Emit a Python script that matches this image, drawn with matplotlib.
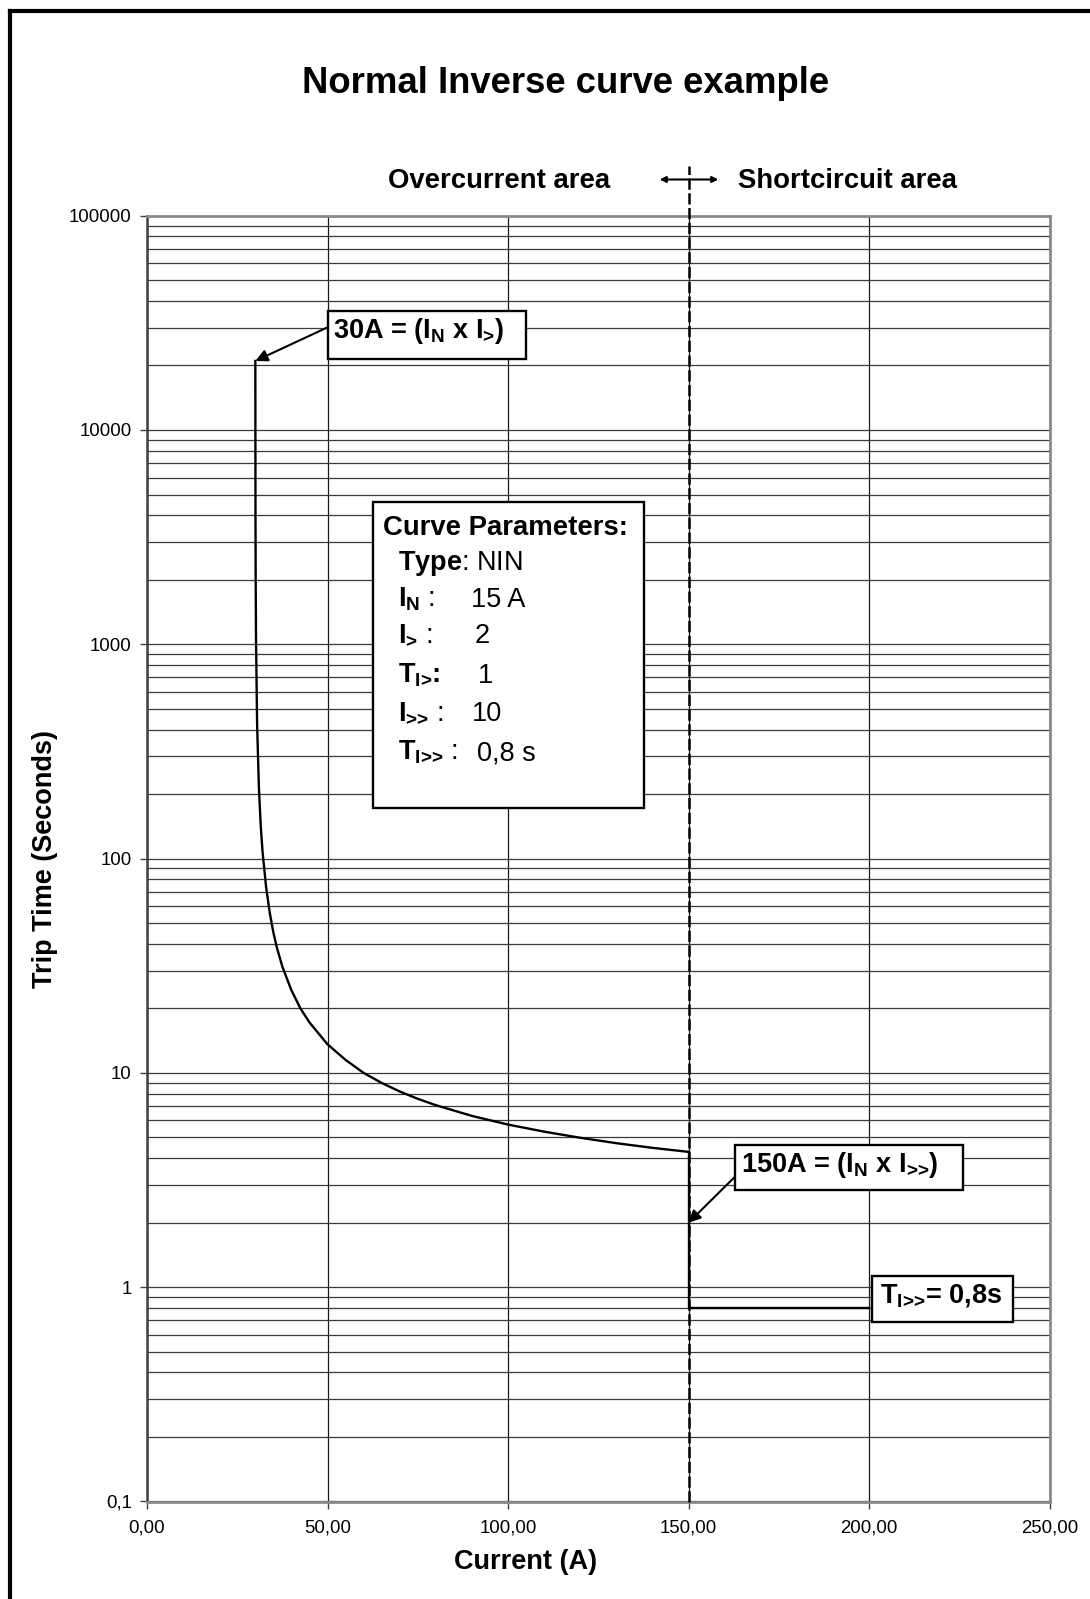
import matplotlib.pyplot as plt
from matplotlib.patches import Rectangle
from matplotlib.lines import Line2D
from matplotlib.ticker import FixedLocator, LogLocator, NullFormatter, NullLocator

plt.rcParams['font.family'] = ['Liberation Sans', 'DejaVu Sans']
plt.rcParams['mathtext.fontset'] = 'custom'
plt.rcParams['mathtext.rm'] = 'Liberation Sans:bold'
plt.rcParams['mathtext.bf'] = 'Liberation Sans:bold'
plt.rcParams['mathtext.it'] = 'Liberation Sans:bold'
plt.rcParams['mathtext.default'] = 'rm'

# Normal inverse trip curve (I_N = 15 A, I> = 2, T = 1)
current = [30.01, 30.05, 30.1, 30.2, 30.5, 31, 31.5, 32, 33, 34, 35, 36, 37.5,
           40, 42.5, 45, 50, 55, 60, 65, 70, 75, 80, 90, 100, 110, 120, 130,
           140, 150]
trip_time = [21000, 4200, 2100, 1050, 423, 213, 143, 108, 73.4, 55.9, 45.3,
             38.3, 31.3, 24.3, 20.0, 17.2, 13.6, 11.5, 10.0, 8.98, 8.19, 7.57,
             7.07, 6.30, 5.74, 5.32, 4.98, 4.70, 4.47, 4.28]

# instantaneous stage I>> : 150 A, 0.8 s
inst_current = [150, 150, 200]
inst_time = [4.28, 0.8, 0.8]

x_ticks = [0, 50, 100, 150, 200, 250]
x_labels = ["0,00", "50,00", "100,00", "150,00", "200,00", "250,00"]
y_ticks = [0.1, 1, 10, 100, 1000, 10000, 100000]
y_labels = ["0,1", "1", "10", "100", "1000", "10000", "100000"]

param_labels = [r"$\text{I}_\text{N}$ :", r"$\text{I}_\text{>}$ :",
                r"$\text{T}_\text{I>}\text{:}$", r"$\text{I}_\text{>>}$ :",
                r"$\text{T}_\text{I>>}$ :"]
param_values = ["15 A", "2", "1", "10", "0,8 s"]
curve_type = "NIN"

W, H = 1090, 1599


def fx(x):
    return x / W


def fy(y):
    return 1 - y / H


fig = plt.figure(figsize=(W / 100, H / 100), dpi=100)
ax = fig.add_axes([fx(147), fy(1501.5), (1049.5 - 147) / W, (1501.5 - 215.7) / H])

ax.set_yscale("log")
ax.set_xlim(0, 250)
ax.set_ylim(0.1, 100000)

ax.xaxis.set_major_locator(FixedLocator(x_ticks))
ax.set_xticklabels(x_labels)
ax.yaxis.set_major_locator(FixedLocator(y_ticks))
ax.set_yticklabels(y_labels)
ax.yaxis.set_minor_locator(LogLocator(base=10, subs=range(2, 10), numticks=20))
ax.yaxis.set_minor_formatter(NullFormatter())
ax.xaxis.set_minor_locator(NullLocator())
ax.tick_params(axis="both", which="major", direction="out", length=5, width=1,
               labelsize=13.4, color="#404040")
ax.tick_params(axis="x", pad=8)
ax.tick_params(axis="y", pad=6)
ax.tick_params(axis="y", which="minor", length=0)

ax.grid(axis="y", which="both", color="#3a3a3a", lw=0.9)
ax.grid(axis="x", which="major", color="#1a1a1a", lw=0.9)
ax.set_axisbelow(True)
for side in ["top", "right", "bottom"]:
    ax.spines[side].set_color("#8a8a8a")
    ax.spines[side].set_linewidth(2)
ax.spines["left"].set_color("#404040")
ax.spines["left"].set_linewidth(1.8)

ax.plot(current, trip_time, color="black", lw=1.7, zorder=4)
ax.plot(inst_current, inst_time, color="black", lw=1.7, zorder=4)

# boundary between overcurrent and short-circuit stage
ax.axvline(150, ymin=0, ymax=1 + (215.7 - 166) / (1501.5 - 215.7), color="black",
           lw=1.8, ls=(0, (4.5, 1.4)), clip_on=False, zorder=5)

# outer frame
fig.add_artist(Line2D([fx(9.5), fx(9.5)], [fy(11.3), 0], color="black", lw=3))
fig.add_artist(Line2D([fx(9.5), 1], [fy(11.3), fy(11.3)], color="black", lw=3))

fig.text(fx(302), fy(93.3), "Normal Inverse curve example", fontsize=26.3,
         fontweight="bold", ha="left", va="baseline")
fig.text(fx(610), fy(188.3), "Overcurrent area", fontsize=19.8, fontweight="bold",
         ha="right", va="baseline")
fig.text(fx(738), fy(188.3), "Shortcircuit area", fontsize=19.8, fontweight="bold",
         ha="left", va="baseline")
fig.add_artist(plt.annotate("", xy=(fx(660), fy(179.5)), xytext=(fx(718), fy(179.5)),
                            xycoords="figure fraction", textcoords="figure fraction",
                            arrowprops=dict(arrowstyle="<|-|>", color="black", lw=1.2,
                                            mutation_scale=9, shrinkA=0, shrinkB=0)))

fig.text(fx(526), fy(1562), "Current (A)", fontsize=19.5, fontweight="bold",
         ha="center", va="center")
fig.text(fx(45), fy(859), "Trip Time (Seconds)", fontsize=19.5, fontweight="bold",
         ha="center", va="center", rotation=90)


def box(x0, y0, x1, y1):
    fig.add_artist(Rectangle((fx(x0), fy(y1)), fx(x1) - fx(x0), fy(y0) - fy(y1),
                             transform=fig.transFigure, facecolor="white",
                             edgecolor="black", lw=1.7, zorder=6))


def arrow(x_data, y_data, x_px, y_px):
    ax.annotate("", xy=(x_data, y_data), xytext=(fx(x_px), fy(y_px)),
                xycoords="data", textcoords="figure fraction",
                annotation_clip=False, zorder=7,
                arrowprops=dict(arrowstyle="-|>", color="black", lw=1.5,
                                mutation_scale=18, shrinkA=0, shrinkB=0))


# pick-up current annotation
box(328.3, 310.7, 525.7, 359.3)
fig.text(fx(333), fy(338.3), r"30A = (I$_\text{N}$ x I$_\text{>}$)", fontsize=19.5,
         fontweight="bold", ha="left", va="baseline", zorder=7)
arrow(current[0], trip_time[0], 328.3, 327)

# instantaneous current annotation
box(735, 1145, 962.7, 1190)
fig.text(fx(740.7), fy(1172.3), r"150A = (I$_\text{N}$ x I$_\text{>>}$)", fontsize=19.5,
         fontweight="bold", ha="left", va="baseline", zorder=7)
arrow(150, 2, 735, 1176.7)

# instantaneous time annotation
box(871.7, 1275.7, 1012.7, 1321.7)
fig.text(fx(880), fy(1302.7), r"T$_\text{I>>}$= 0,8s", fontsize=19.5,
         fontweight="bold", ha="left", va="baseline", zorder=7)

# curve parameter box
box(373.3, 502.3, 644, 808.3)
fig.text(fx(383.3), fy(535), "Curve Parameters:", fontsize=19.8, fontweight="bold",
         ha="left", va="baseline", zorder=7)
fig.text(fx(398.3), fy(570), r"$\text{Type}$: " + curve_type, fontsize=19.5,
         ha="left", va="baseline", zorder=7)
row_y = [606.7, 643, 682.7, 721, 760]
value_x = [471, 475, 478, 472, 477.3]
for lab, val, yy, xx in zip(param_labels, param_values, row_y, value_x):
    fig.text(fx(398.3), fy(yy), lab, fontsize=19.5,
             ha="left", va="baseline", zorder=7)
    fig.text(fx(xx), fy(yy), val, fontsize=19.5, ha="left", va="baseline", zorder=7)

fig.savefig("out.png", dpi=100)
